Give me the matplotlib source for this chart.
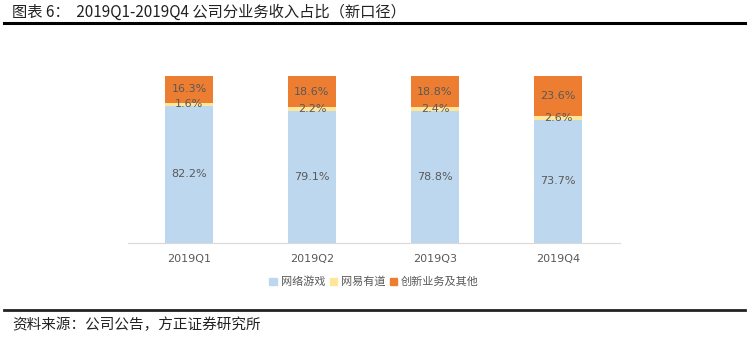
import matplotlib
matplotlib.use("Agg")
import matplotlib.pyplot as plt
from matplotlib.lines import Line2D
from matplotlib.patches import Patch

plt.rcParams["font.family"] = ["Noto Sans CJK SC", "DejaVu Sans"]

quarters = ["2019Q1", "2019Q2", "2019Q3", "2019Q4"]
games = [82.2, 79.1, 78.8, 73.7]
youdao = [1.6, 2.2, 2.4, 2.6]
innovation = [16.3, 18.6, 18.8, 23.6]
series_names = ["网络游戏", "网易有道", "创新业务及其他"]

title = "图表 6：  2019Q1-2019Q4 公司分业务收入占比（新口径）"
source = "资料来源：公司公告，方正证券研究所"

COLORS = ["#BDD7EE", "#FFE699", "#ED7D31"]
TEXT = "#595959"

W, H = 750, 338
fig = plt.figure(figsize=(W / 100, H / 100), dpi=100)

ax = fig.add_axes([127.5 / W, (H - 243) / H, 492 / W, 167 / H])
x = list(range(len(quarters)))
bottom = [0.0] * len(quarters)
for values, color, name in zip([games, youdao, innovation], COLORS, series_names):
    ax.bar(x, values, bottom=bottom, width=0.39, color=color, label=name, zorder=2)
    for xi, b, v in zip(x, bottom, values):
        ax.text(xi, b + v / 2, f"{v:.1f}%", ha="center", va="center",
                fontsize=8, color=TEXT, family=["DejaVu Sans"], zorder=3)
    bottom = [b + v for b, v in zip(bottom, values)]

ax.set_xlim(-0.5, len(quarters) - 0.5)
ax.set_ylim(0, 100)
ax.set_yticks([])
ax.set_xticks(x)
ax.set_xticklabels(quarters, fontsize=8, color=TEXT, family=["DejaVu Sans"])
ax.tick_params(axis="x", length=0, pad=8)
for side in ["top", "right", "left"]:
    ax.spines[side].set_visible(False)
ax.spines["bottom"].set_color("#D9D9D9")
ax.spines["bottom"].set_linewidth(0.8)

handles = [Patch(color=c) for c in COLORS]
fig.legend(handles, series_names, loc="center", bbox_to_anchor=(374 / W, 1 - 282 / H),
           ncol=3, frameon=False, fontsize=8, labelcolor=TEXT,
           handlelength=0.7, handleheight=0.7, handletextpad=0.3, columnspacing=0.4)

fig.text(12 / W, 1 - 12 / H, title, ha="left", va="center", fontsize=11, color="#222222")
fig.text(12 / W, 1 - 325 / H, source, ha="left", va="center", fontsize=10.5,
         color="#222222", style="italic")

fig.add_artist(Line2D([4 / W, 745 / W], [1 - 23 / H, 1 - 23 / H], color="black", linewidth=2.2))
fig.add_artist(Line2D([4 / W, 745 / W], [1 - 310 / H, 1 - 310 / H], color="#222222", linewidth=2.0))

fig.savefig("out.png", dpi=100)
